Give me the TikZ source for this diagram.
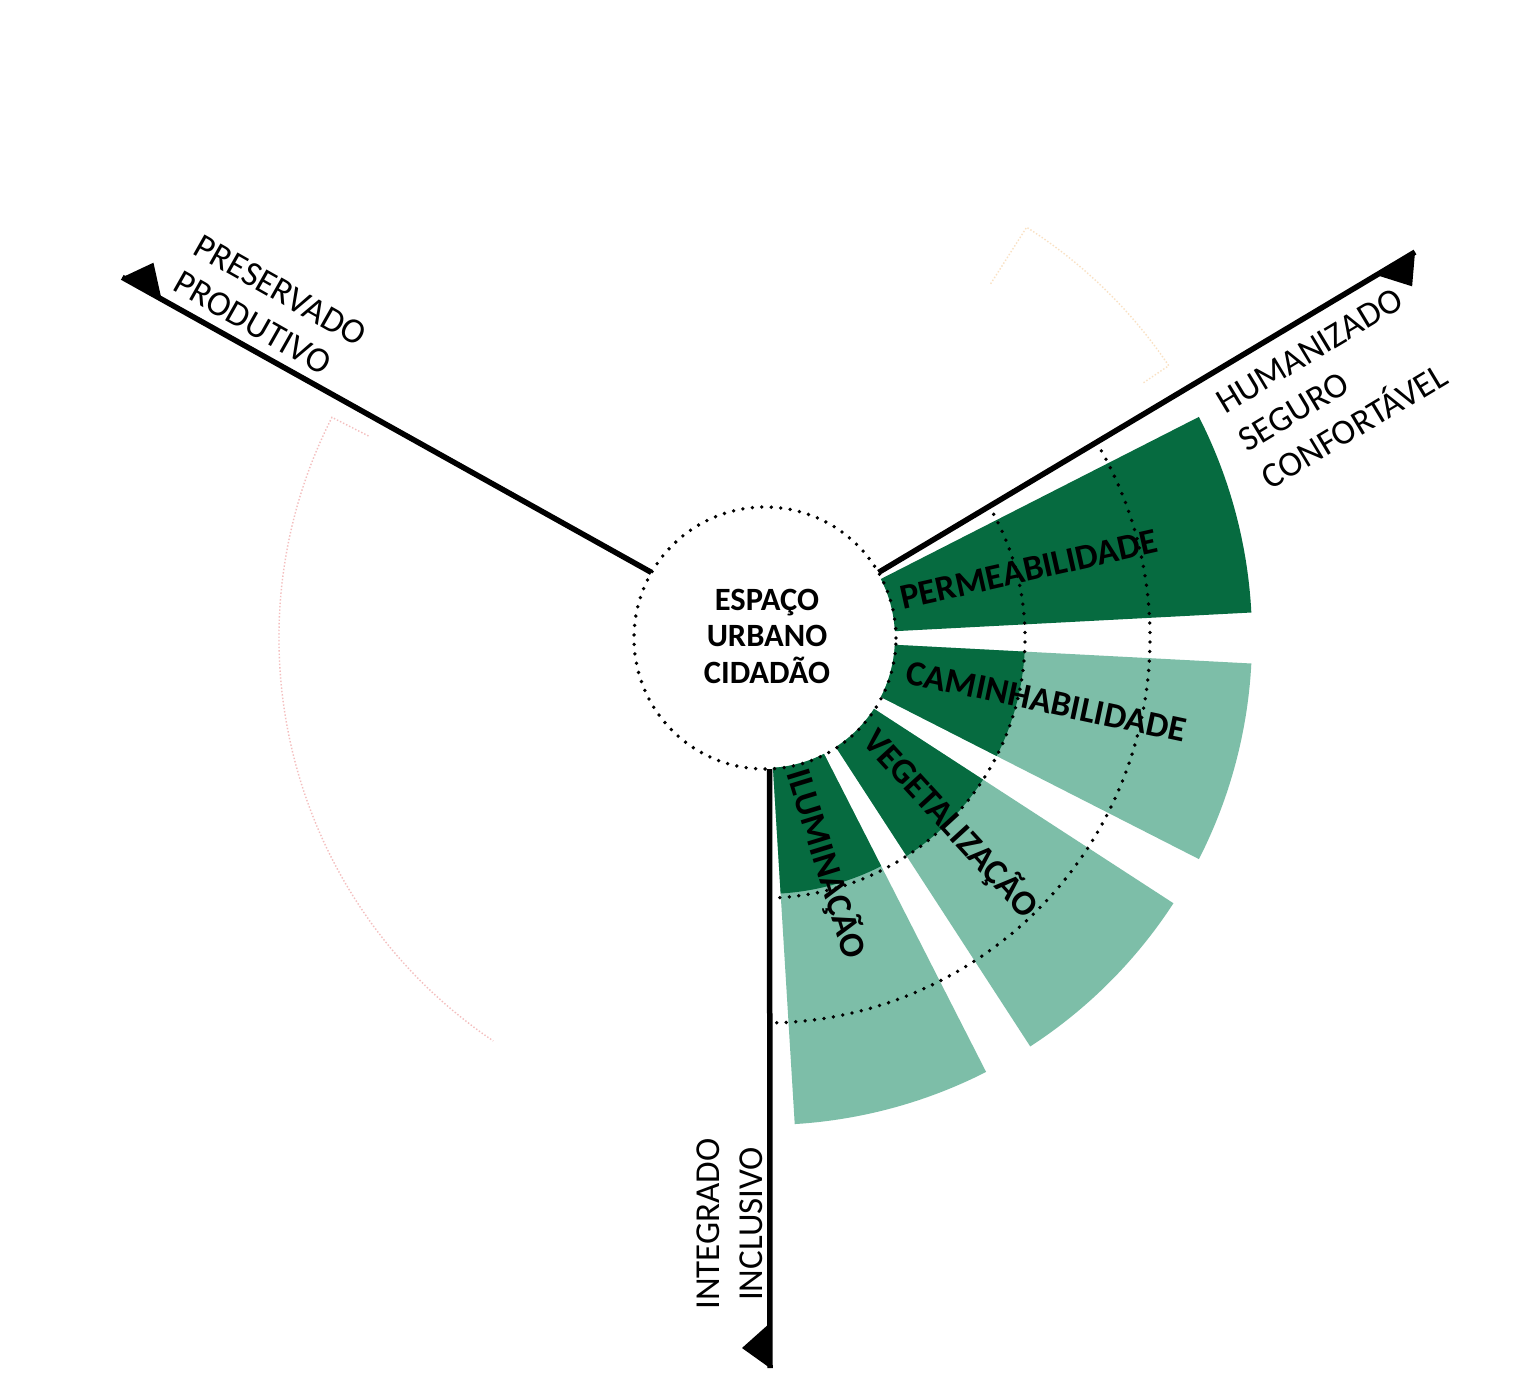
\documentclass[tikz,border=0pt]{standalone}
\usepackage{fontspec}
\setmainfont{Carlito}
\definecolor{dkgreen}{RGB}{6,107,64}
\definecolor{ltgreen}{RGB}{125,190,168}
\definecolor{ghostpink}{RGB}{244,190,190}
\definecolor{ghostorange}{RGB}{250,225,195}
\begin{document}
\begin{tikzpicture}[x=1pt,y=1pt,
  axisline/.style={line width=5.5pt},
  arrowtri/.style={fill=black},
  dotline/.style={line width=3.8pt, dash pattern=on 0pt off 9.5pt, line cap=round},
  wedgelabel/.style={font=\fontsize{35.5}{35.5}\selectfont\bfseries, inner sep=0pt, text height=22pt, text depth=0pt},
  axislabel/.style={font=\fontsize{35.5}{44}\selectfont, inner sep=0pt, align=left},
  ghost/.style={line width=1.4pt, dotted}]

\useasboundingbox[fill=white] (-765,-746) rectangle (757,638);

% faint ghost outlines
\draw[ghost, ghostpink] (153:445pt) -- (153:486pt) arc[start angle=153, end angle=236, radius=486pt];
\draw[ghost, ghostorange] (57.5:420pt) -- (57.5:487pt) arc[start angle=57.5, end angle=34, radius=487pt] -- (34:455pt);

% wedges
\fill[dkgreen] (3:130pt) arc[start angle=3, end angle=27, radius=130pt] -- (27:487pt) arc[start angle=27, end angle=3, radius=487pt] -- cycle;
\fill[ltgreen] (-27:130pt) arc[start angle=-27, end angle=-3, radius=130pt] -- (-3:487pt) arc[start angle=-3, end angle=-27, radius=487pt] -- cycle;
\fill[dkgreen] (-27:130pt) arc[start angle=-27, end angle=-3, radius=130pt] -- (-3:260pt) arc[start angle=-3, end angle=-27, radius=260pt] -- cycle;
\fill[ltgreen] (-57:130pt) arc[start angle=-57, end angle=-33, radius=130pt] -- (-33:487pt) arc[start angle=-33, end angle=-57, radius=487pt] -- cycle;
\fill[dkgreen] (-57:130pt) arc[start angle=-57, end angle=-33, radius=130pt] -- (-33:260pt) arc[start angle=-33, end angle=-57, radius=260pt] -- cycle;
\fill[ltgreen] (-86.5:130pt) arc[start angle=-86.5, end angle=-63, radius=130pt] -- (-63:487pt) arc[start angle=-63, end angle=-86.5, radius=487pt] -- cycle;
\fill[dkgreen] (-86.5:130pt) arc[start angle=-86.5, end angle=-63, radius=130pt] -- (-63:256pt) arc[start angle=-63, end angle=-86.5, radius=256pt] -- cycle;

% hub
\node[circle, minimum size=262pt, inner sep=0pt] (hub) at (0,0) {};
\draw[dotline] (hub.center) circle[radius=131pt];
\draw[dotline] (30.5:260pt) arc[start angle=30.5, end angle=-88, radius=260pt];
\draw[dotline] (30.5:385pt) arc[start angle=30.5, end angle=-88.5, radius=385pt];

% axes
\coordinate (tipL) at (150.7:737pt);
\coordinate (tipR) at (30.7:756pt);
\coordinate (tipB) at (5,-730);
\draw[axisline] (hub.150.7) -- (tipL);
\draw[axisline] (hub.30.7) -- (tipR);
\draw[axisline] (hub.272.2) -- (tipB);
\begin{scope}[shift={(tipL)}, rotate=150.7]
  \fill[arrowtri] (0,0) -- (-45,0) -- (-20,-28) -- cycle;
\end{scope}
\begin{scope}[shift={(tipR)}, rotate=30.7]
  \fill[arrowtri] (0,0) -- (-45,0) -- (-20,-28) -- cycle;
\end{scope}
\begin{scope}[shift={(tipB)}, rotate=270]
  \fill[arrowtri] (0,0) -- (-45,0) -- (-20,-28) -- cycle;
\end{scope}

% center text
\node[font=\fontsize{32.5}{36.5}\selectfont\bfseries, align=center, inner sep=0pt] (hubtext) at (2,2) {ESPAÇO\\URBANO\\CIDADÃO};

% wedge labels
\node[wedgelabel, rotate=12.7] (perm) at (264,68) {PERMEABILIDADE};
\node[wedgelabel, rotate=-12] (cam) at (281,-64) {CAMINHABILIDADE};
\node[wedgelabel, rotate=-47.5] (veg) at (186,-186) {VEGETALIZAÇÃO};
\node[wedgelabel, rotate=-72.9] (ilum) at (61,-226) {ILUMINAÇÃO};

% axis labels
\node[axislabel, rotate=-29.5, anchor=north west, font=\fontsize{35.5}{42}\selectfont] (pres) at (-562,405) {PRESERVADO\\PRODUTIVO};
\node[axislabel, rotate=31, anchor=north west] (hum) at (448,243) {HUMANIZADO\\SEGURO\\CONFORTÁVEL};
\node[axislabel, rotate=90, align=center, font=\fontsize{35}{43}\selectfont] (integ) at (-35.5,-586) {INTEGRADO\\INCLUSIVO};
\end{tikzpicture}
\end{document}
